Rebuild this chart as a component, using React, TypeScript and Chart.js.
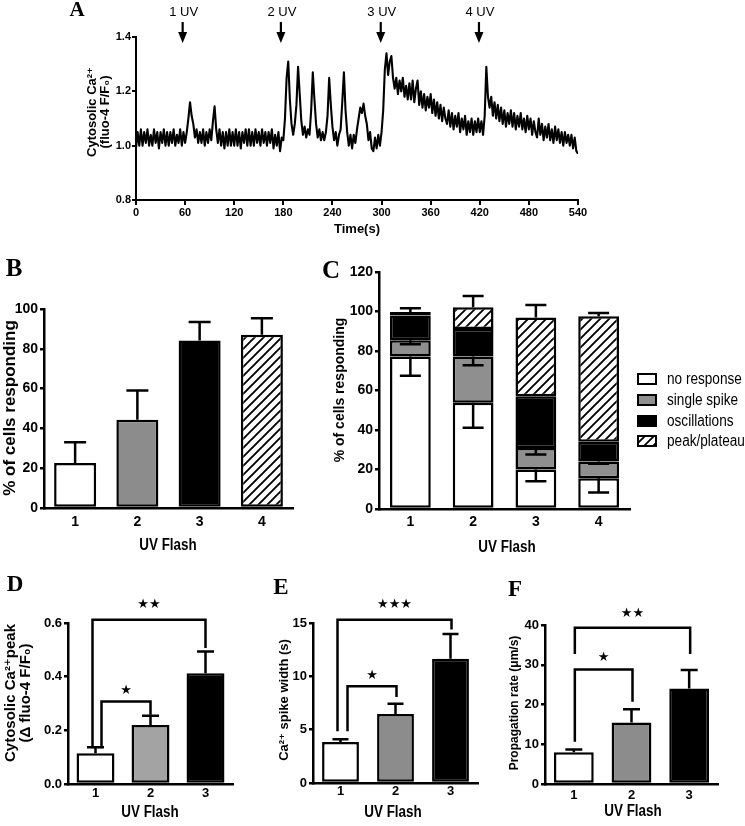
import React, { useEffect, useRef } from 'react';
import { Chart, registerables } from 'chart.js';
Chart.register(...registerables);

// ---------------- DATA ----------------
// Panel A: cytosolic Ca2+ trace (fluo-4 F/F0), one value every TRACE_STEP_S seconds from 0 s
const TRACE_STEP_S = 2;
const TRACE_F_F0 = [
  0.99, 1.05, 1.00, 1.06, 1.00, 1.05, 1.01, 1.06, 1.00, 1.04,
  1.00, 1.06, 1.01, 1.05, 0.99, 1.05, 1.01, 1.06, 1.00, 1.05,
  1.00, 1.05, 1.01, 1.06, 1.00, 1.04, 1.01, 1.06, 1.00, 1.05,
  1.01, 1.05, 1.10, 1.16, 1.11, 1.08, 1.03, 1.06, 1.01, 1.05,
  1.01, 1.06, 1.00, 1.05, 1.01, 1.06, 1.02, 1.09, 1.145, 1.06,
  1.01, 1.06, 1.00, 1.05, 0.99, 1.05, 1.00, 1.06, 1.00, 1.05,
  1.00, 1.06, 1.00, 1.05, 0.99, 1.05, 1.01, 1.06, 1.00, 1.06,
  1.00, 1.05, 1.00, 1.06, 1.01, 1.05, 1.00, 1.06, 1.01, 1.05,
  1.00, 1.05, 1.01, 1.06, 0.99, 1.04, 1.00, 1.05, 0.98, 1.03,
  1.02, 1.10, 1.25, 1.31, 1.17, 1.08, 1.04, 1.08, 1.15, 1.29,
  1.19, 1.09, 1.04, 1.07, 1.03, 1.06, 1.04, 1.13, 1.27, 1.17,
  1.08, 1.03, 1.06, 1.02, 1.05, 1.02, 1.05, 1.11, 1.25, 1.15,
  1.07, 1.02, 1.05, 1.00, 1.04, 1.06, 1.16, 1.27, 1.13, 1.05,
  1.00, 1.04, 0.99, 1.04, 1.01, 1.06, 1.10, 1.14, 1.12, 1.155,
  1.11, 1.08, 1.02, 1.05, 0.99, 0.98, 1.03, 0.99, 1.04, 1.00,
  1.05, 1.13, 1.28, 1.34, 1.26, 1.31, 1.33, 1.25, 1.21, 1.25,
  1.19, 1.24, 1.20, 1.25, 1.18, 1.22, 1.17, 1.23, 1.17, 1.24,
  1.16, 1.21, 1.24, 1.15, 1.20, 1.14, 1.19, 1.13, 1.18, 1.14,
  1.19, 1.12, 1.17, 1.11, 1.16, 1.10, 1.15, 1.09, 1.14, 1.10,
  1.08, 1.13, 1.07, 1.12, 1.06, 1.11, 1.07, 1.12, 1.05, 1.10,
  1.06, 1.11, 1.04, 1.09, 1.05, 1.10, 1.04, 1.09, 1.05, 1.10,
  1.05, 1.09, 1.04, 1.11, 1.29, 1.18, 1.14, 1.18, 1.11, 1.16,
  1.10, 1.15, 1.09, 1.14, 1.08, 1.13, 1.07, 1.12, 1.08, 1.13,
  1.07, 1.12, 1.06, 1.11, 1.07, 1.12, 1.06, 1.10, 1.05, 1.11,
  1.06, 1.10, 1.04, 1.09, 1.05, 1.03, 1.10, 1.04, 1.08, 1.02,
  1.07, 1.03, 1.08, 1.02, 1.06, 1.01, 1.07, 1.02, 1.06, 1.01,
  1.05, 1.00, 1.05, 1.01, 1.04, 1.00, 1.04, 0.99, 1.03, 0.98,
  0.97,
];
const UV_FLASH_TIMES = [57, 177, 299, 419];
const UV_FLASH_LABELS = ['1 UV', '2 UV', '3 UV', '4 UV'];

const FLASHES_4 = ['1', '2', '3', '4'];
const FLASHES_3 = ['1', '2', '3'];

// Panel B
const B_RESPONDING = [22.6, 44.4, 84.2, 87.1];
const B_RESPONDING_SEM = [10.4, 14.7, 9.3, 8.2];

// Panel C (stacked %)
const C_SERIES = ['no response', 'single spike', 'oscillations', 'peak/plateau'];
const C_NO_RESPONSE = [77.2, 53.8, 20.0, 15.6];
const C_SINGLE_SPIKE = [8.3, 23.4, 10.9, 8.5];
const C_OSCILLATIONS = [12.5, 13.9, 26.2, 10.0];
const C_PEAK_PLATEAU = [1.7, 11.0, 39.8, 63.5];
const C_NO_RESPONSE_SEM = [9.7, 12.7, 5.9, 7.3];
const C_SINGLE_SPIKE_SEM = [2.1, 4.4, 3.3, 1.2];
const C_PEAK_PLATEAU_SEM = [1.9, 5.7, 6.4, 1.6];

// Panel D
const D_PEAK = [0.115, 0.220, 0.413];
const D_PEAK_SEM = [0.022, 0.034, 0.081];
const D_SIG_PAIRS = [[0, 1], [0, 2]];
const D_SIG_TOP = [0.307, 0.612];
const D_SIG_LEG_START = [0.133, 0.133];
const D_SIG_LEG_END = [0.258, 0.507];
const D_SIG_STARS = ['★', '★★'];

// Panel E
const E_WIDTH = [3.84, 6.47, 11.66];
const E_WIDTH_SEM = [0.26, 0.97, 2.31];
const E_SIG_PAIRS = [[0, 1], [0, 2]];
const E_SIG_TOP = [9.06, 15.3];
const E_SIG_LEG_START = [4.84, 4.84];
const E_SIG_LEG_END = [8.06, 14.4];
const E_SIG_STARS = ['★', '★★★'];

// Panel F
const F_RATE = [7.97, 15.5, 24.0];
const F_RATE_SEM = [0.73, 3.3, 4.7];
const F_SIG_PAIRS = [[0, 1], [0, 2]];
const F_SIG_TOP = [28.8, 39.3];
const F_SIG_LEG_START = [10.6, 32.7];
const F_SIG_LEG_END = [20.7, 32.7];
const F_SIG_STARS = ['★', '★★'];

// ---------------- STYLE ----------------
const SANS = "'Liberation Sans', Arial, 'DejaVu Sans', sans-serif";
const SERIF = "'Liberation Serif', 'Times New Roman', serif";
const STAR_FONT = "13px 'DejaVu Sans', sans-serif";
const ROT = -Math.PI / 2;

let hatchPattern: any = null;
function getHatch() {
  if (hatchPattern) return hatchPattern;
  const s = 9;
  const c = document.createElement('canvas');
  c.width = s; c.height = s;
  const g = c.getContext('2d')!;
  g.fillStyle = '#fff';
  g.fillRect(0, 0, s, s);
  g.strokeStyle = '#000';
  g.lineWidth = 1.9;
  g.beginPath();
  g.moveTo(-1, s + 1); g.lineTo(s + 1, -1);
  g.moveTo(-2, 2); g.lineTo(2, -2);
  g.moveTo(s - 2, s + 2); g.lineTo(s + 2, s - 2);
  g.stroke();
  hatchPattern = g.createPattern(c, 'repeat');
  return hatchPattern;
}

type Box = { x: number; y: number; w: number; h: number };
type Area = { l: number; r: number; t: number; b: number };
type TextItem = { text: string; x: number; y: number; font: string; rot?: number; sx?: number; align?: CanvasTextAlign };

function textPlugin(box: Box, items: TextItem[]) {
  return {
    id: 'pageTexts',
    afterDraw(chart: any) {
      const ctx = chart.ctx;
      items.forEach((t) => {
        ctx.save();
        ctx.translate(t.x - box.x, t.y - box.y);
        if (t.sx) ctx.scale(t.sx, 1);
        if (t.rot) ctx.rotate(t.rot);
        ctx.font = t.font;
        ctx.fillStyle = '#000';
        ctx.textAlign = t.align || 'center';
        ctx.textBaseline = 'middle';
        ctx.fillText(t.text, 0, 0);
        ctx.restore();
      });
    },
  };
}

function errorBarPlugin(cap: number, lw: number) {
  return {
    id: 'errorBars',
    afterDatasetsDraw(chart: any) {
      const ctx = chart.ctx;
      const ys = chart.scales.y;
      const unit = ys.getPixelForValue(0) - ys.getPixelForValue(1);
      ctx.save();
      ctx.strokeStyle = '#000';
      ctx.lineWidth = lw;
      ctx.lineCap = 'butt';
      chart.data.datasets.forEach((ds: any, di: number) => {
        if (!ds.sem) return;
        const meta = chart.getDatasetMeta(di);
        meta.data.forEach((el: any, i: number) => {
          const e = ds.sem[i];
          if (!e) return;
          const y0 = el.y;
          const y1 = y0 - ds.semDir * e * unit;
          ctx.beginPath();
          ctx.moveTo(el.x, y0);
          ctx.lineTo(el.x, y1);
          ctx.moveTo(el.x - cap / 2, y1);
          ctx.lineTo(el.x + cap / 2, y1);
          ctx.stroke();
        });
      });
      ctx.restore();
    },
  };
}

function bracketPlugin(pairs: number[][], top: number[], legStart: number[], legEnd: number[], stars: string[], dx: number[][], gaps: number[]) {
  return {
    id: 'sigBrackets',
    afterDatasetsDraw(chart: any) {
      const ctx = chart.ctx;
      const xs = chart.scales.x;
      const ys = chart.scales.y;
      ctx.save();
      ctx.strokeStyle = '#000';
      ctx.fillStyle = '#000';
      ctx.lineWidth = 2.5;
      ctx.lineJoin = 'miter';
      ctx.lineCap = 'butt';
      pairs.forEach((p, k) => {
        const x1 = xs.getPixelForValue(p[0]) + dx[k][0];
        const x2 = xs.getPixelForValue(p[1]) + dx[k][1];
        const yt = ys.getPixelForValue(top[k]);
        ctx.beginPath();
        ctx.moveTo(x1, ys.getPixelForValue(legStart[k]));
        ctx.lineTo(x1, yt);
        ctx.lineTo(x2, yt);
        ctx.lineTo(x2, ys.getPixelForValue(legEnd[k]));
        ctx.stroke();
        ctx.font = STAR_FONT;
        ctx.textAlign = 'center';
        ctx.textBaseline = 'middle';
        ctx.fillText(stars[k], (x1 + x2) / 2, yt - gaps[k]);
      });
      ctx.restore();
    },
  };
}

function legendPlugin(box: Box, labels: string[], fills: any[], x0: number, ys: number[]) {
  return {
    id: 'cLegend',
    afterDraw(chart: any) {
      const ctx = chart.ctx;
      ctx.save();
      labels.forEach((lab, i) => {
        const x = x0 - box.x;
        const y = ys[i] - box.y;
        ctx.fillStyle = fills[i];
        ctx.fillRect(x, y - 6, 20, 12);
        ctx.strokeStyle = '#000';
        ctx.lineWidth = 2;
        ctx.strokeRect(x + 1, y - 5, 18, 10);
        ctx.save();
        ctx.translate(x + 30, y + 1);
        ctx.scale(0.85, 1);
        ctx.fillStyle = '#000';
        ctx.font = `16px ${SANS}`;
        ctx.textAlign = 'left';
        ctx.textBaseline = 'middle';
        ctx.fillText(lab, 0, 0);
        ctx.restore();
      });
      ctx.restore();
    },
  };
}

function barConfig(opts: {
  box: Box; area: Area; labels: string[]; datasets: any[]; stacked?: boolean;
  yMin: number; yMax: number; yStep: number; fmt: (v: number) => string;
  tickSize: number; xPad: number; plugins: any[];
}) {
  const { box, area } = opts;
  const tickFont = { family: SANS, size: opts.tickSize, weight: 'bold' as const };
  return {
    type: 'bar' as const,
    data: { labels: opts.labels, datasets: opts.datasets },
    options: {
      animation: false as const,
      responsive: false,
      maintainAspectRatio: false,
      devicePixelRatio: 1,
      events: [],
      layout: { padding: { left: 0, top: area.t - box.y, right: box.x + box.w - area.r, bottom: 0 } },
      plugins: { legend: { display: false }, tooltip: { enabled: false } },
      scales: {
        x: {
          stacked: !!opts.stacked,
          offset: true,
          grid: { display: false, drawTicks: false },
          border: { display: true, color: '#000', width: 2.5 },
          ticks: { color: '#000', font: tickFont, padding: opts.xPad, maxRotation: 0 },
          afterFit: (s: any) => { s.height = box.y + box.h - area.b; },
        },
        y: {
          stacked: !!opts.stacked,
          min: opts.yMin,
          max: opts.yMax,
          grid: { display: true, drawOnChartArea: false, drawTicks: true, tickLength: 4, color: '#000', lineWidth: 2.5 },
          border: { display: true, color: '#000', width: 2.5 },
          ticks: { stepSize: opts.yStep, color: '#000', font: tickFont, padding: 2, callback: (v: any) => opts.fmt(Number(v)) },
          afterFit: (s: any) => { s.width = area.l - box.x; },
        },
      },
    },
    plugins: opts.plugins,
  };
}

// ---------------- PANELS ----------------
const A_BOX: Box = { x: 0, y: 0, w: 745, h: 245 };
const A_AREA: Area = { l: 136, r: 578, t: 37, b: 200 };

function makeA() {
  const uvArrows = {
    id: 'uvArrows',
    afterDraw(chart: any) {
      const ctx = chart.ctx;
      const xs = chart.scales.x;
      ctx.save();
      ctx.fillStyle = '#000';
      ctx.strokeStyle = '#000';
      UV_FLASH_TIMES.forEach((t, i) => {
        const x = xs.getPixelForValue(t);
        ctx.font = `13px ${SANS}`;
        ctx.textAlign = 'center';
        ctx.textBaseline = 'middle';
        ctx.fillText(UV_FLASH_LABELS[i], x + 1, 12);
        ctx.lineWidth = 2.2;
        ctx.beginPath();
        ctx.moveTo(x, 22);
        ctx.lineTo(x, 34);
        ctx.stroke();
        ctx.beginPath();
        ctx.moveTo(x - 4.5, 32);
        ctx.lineTo(x + 4.5, 32);
        ctx.lineTo(x, 43);
        ctx.closePath();
        ctx.fill();
      });
      ctx.restore();
    },
  };
  const tickFont = { family: SANS, size: 11, weight: 'bold' as const };
  return {
    type: 'line' as const,
    data: {
      datasets: [{
        data: TRACE_F_F0.map((v, i) => ({ x: i * TRACE_STEP_S, y: v })),
        borderColor: '#000',
        borderWidth: 2.1,
        pointRadius: 0,
        borderJoinStyle: 'round' as const,
        tension: 0,
      }],
    },
    options: {
      animation: false as const,
      responsive: false,
      maintainAspectRatio: false,
      devicePixelRatio: 1,
      events: [],
      layout: { padding: { left: 0, top: A_AREA.t - A_BOX.y, right: A_BOX.x + A_BOX.w - A_AREA.r, bottom: 0 } },
      plugins: { legend: { display: false }, tooltip: { enabled: false } },
      scales: {
        x: {
          type: 'linear' as const,
          min: 0,
          max: 540,
          grid: { display: true, drawOnChartArea: false, drawTicks: true, tickLength: 5, color: '#000', lineWidth: 2 },
          border: { display: true, color: '#000', width: 2 },
          ticks: { stepSize: 60, color: '#000', font: tickFont, padding: 1, maxRotation: 0 },
          afterFit: (s: any) => { s.height = A_BOX.y + A_BOX.h - A_AREA.b; },
        },
        y: {
          min: 0.8,
          max: 1.4,
          grid: { display: true, drawOnChartArea: false, drawTicks: true, tickLength: 4, color: '#000', lineWidth: 2 },
          border: { display: true, color: '#000', width: 2 },
          ticks: { stepSize: 0.2, color: '#000', font: tickFont, padding: 1, callback: (v: any) => Number(v).toFixed(1) },
          afterFit: (s: any) => { s.width = A_AREA.l - A_BOX.x; },
        },
      },
    },
    plugins: [
      uvArrows,
      textPlugin(A_BOX, [
        { text: 'A', x: 77, y: 11, font: `bold 21px ${SERIF}` },
        { text: 'Cytosolic Ca²⁺', x: 92, y: 112, rot: ROT, font: `bold 13px ${SANS}` },
        { text: '(fluo-4 F/F₀)', x: 105, y: 112, rot: ROT, font: `bold 13px ${SANS}` },
        { text: 'Time(s)', x: 357, y: 229, font: `bold 13px ${SANS}` },
      ]),
    ],
  };
}

const B_BOX: Box = { x: 0, y: 250, w: 300, h: 315 };
const B_AREA: Area = { l: 44, r: 293, t: 309, b: 508 };
function makeB() {
  return barConfig({
    box: B_BOX, area: B_AREA, labels: FLASHES_4,
    datasets: [{
      data: B_RESPONDING,
      backgroundColor: ['#ffffff', '#8c8c8c', '#000000', getHatch()],
      borderColor: '#000', borderWidth: 2.5, borderSkipped: false,
      barPercentage: 0.675, categoryPercentage: 1,
      sem: B_RESPONDING_SEM, semDir: 1,
    }],
    yMin: 0, yMax: 100, yStep: 20, fmt: (v) => String(Math.round(v)), tickSize: 14, xPad: 6,
    plugins: [
      errorBarPlugin(22, 2.5),
      textPlugin(B_BOX, [
        { text: 'B', x: 14, y: 270, font: `bold 25px ${SERIF}` },
        { text: '% of cells responding', x: 10, y: 408, rot: ROT, font: `bold 17px ${SANS}` },
        { text: 'UV Flash', x: 168, y: 546, sx: 0.84, font: `bold 16px ${SANS}` },
      ]),
    ],
  });
}

const C_BOX: Box = { x: 300, y: 250, w: 445, h: 320 };
const C_AREA: Area = { l: 379, r: 630, t: 272, b: 509 };
function makeC() {
  const common = { borderColor: '#000', borderWidth: 2.5, borderSkipped: false, barPercentage: 0.65, categoryPercentage: 1 };
  const fills = ['#ffffff', '#8f8f8f', '#000000', getHatch()];
  return barConfig({
    box: C_BOX, area: C_AREA, labels: FLASHES_4, stacked: true,
    datasets: [
      { label: C_SERIES[0], data: C_NO_RESPONSE, backgroundColor: fills[0], sem: C_NO_RESPONSE_SEM, semDir: -1, ...common },
      { label: C_SERIES[1], data: C_SINGLE_SPIKE, backgroundColor: fills[1], sem: C_SINGLE_SPIKE_SEM, semDir: -1, ...common },
      { label: C_SERIES[2], data: C_OSCILLATIONS, backgroundColor: fills[2], ...common },
      { label: C_SERIES[3], data: C_PEAK_PLATEAU, backgroundColor: fills[3], sem: C_PEAK_PLATEAU_SEM, semDir: 1, ...common },
    ],
    yMin: 0, yMax: 120, yStep: 20, fmt: (v) => String(Math.round(v)), tickSize: 14, xPad: 5,
    plugins: [
      errorBarPlugin(21, 2.5),
      legendPlugin(C_BOX, C_SERIES, fills, 637, [379, 400, 421, 441]),
      textPlugin(C_BOX, [
        { text: 'C', x: 331, y: 272, font: `bold 25px ${SERIF}` },
        { text: '% of cells responding', x: 340, y: 390, rot: ROT, font: `bold 14px ${SANS}` },
        { text: 'UV Flash', x: 507, y: 548, sx: 0.84, font: `bold 16px ${SANS}` },
      ]),
    ],
  });
}

const D_BOX: Box = { x: 0, y: 570, w: 245, h: 256 };
const D_AREA: Area = { l: 68, r: 233, t: 623, b: 784 };
function makeD() {
  return barConfig({
    box: D_BOX, area: D_AREA, labels: FLASHES_3,
    datasets: [{
      data: D_PEAK,
      backgroundColor: ['#ffffff', '#a3a3a3', '#000000'],
      borderColor: '#000', borderWidth: 2.5, borderSkipped: false,
      barPercentage: 0.69, categoryPercentage: 1,
      sem: D_PEAK_SEM, semDir: 1,
    }],
    yMin: 0, yMax: 0.6, yStep: 0.2, fmt: (v) => v.toFixed(1), tickSize: 13, xPad: 2,
    plugins: [
      errorBarPlugin(17, 2.5),
      bracketPlugin(D_SIG_PAIRS, D_SIG_TOP, D_SIG_LEG_START, D_SIG_LEG_END, D_SIG_STARS, [[6, 0], [-3, 0]], [11, 15]),
      textPlugin(D_BOX, [
        { text: 'D', x: 15, y: 585, font: `bold 23px ${SERIF}` },
        { text: 'Cytosolic Ca²⁺peak', x: 11, y: 693, rot: ROT, font: `bold 15px ${SANS}` },
        { text: '(Δ fluo-4 F/F₀)', x: 26, y: 693, rot: ROT, font: `bold 15px ${SANS}` },
        { text: 'UV Flash', x: 150, y: 813, sx: 0.84, font: `bold 16px ${SANS}` },
      ]),
    ],
  });
}

const E_BOX: Box = { x: 245, y: 570, w: 245, h: 256 };
const E_AREA: Area = { l: 313, r: 478, t: 623, b: 783 };
function makeE() {
  return barConfig({
    box: E_BOX, area: E_AREA, labels: FLASHES_3,
    datasets: [{
      data: E_WIDTH,
      backgroundColor: ['#ffffff', '#8c8c8c', '#000000'],
      borderColor: '#000', borderWidth: 2.5, borderSkipped: false,
      barPercentage: 0.67, categoryPercentage: 1,
      sem: E_WIDTH_SEM, semDir: 1,
    }],
    yMin: 0, yMax: 15, yStep: 5, fmt: (v) => String(Math.round(v)), tickSize: 13, xPad: 1,
    plugins: [
      errorBarPlugin(16, 2.5),
      bracketPlugin(E_SIG_PAIRS, E_SIG_TOP, E_SIG_LEG_START, E_SIG_LEG_END, E_SIG_STARS, [[7, 1], [-3, 1]], [11, 15]),
      textPlugin(E_BOX, [
        { text: 'E', x: 281, y: 588, font: `bold 23px ${SERIF}` },
        { text: 'Ca²⁺ spike width (s)', x: 284, y: 700, rot: ROT, font: `bold 13px ${SANS}` },
        { text: 'UV Flash', x: 393, y: 813, sx: 0.84, font: `bold 16px ${SANS}` },
      ]),
    ],
  });
}

const F_BOX: Box = { x: 490, y: 570, w: 255, h: 256 };
const F_AREA: Area = { l: 545, r: 718, t: 625, b: 784 };
function makeF() {
  return barConfig({
    box: F_BOX, area: F_AREA, labels: FLASHES_3,
    datasets: [{
      data: F_RATE,
      backgroundColor: ['#ffffff', '#8c8c8c', '#000000'],
      borderColor: '#000', borderWidth: 2.5, borderSkipped: false,
      barPercentage: 0.69, categoryPercentage: 1,
      sem: F_RATE_SEM, semDir: 1,
    }],
    yMin: 0, yMax: 40, yStep: 10, fmt: (v) => String(Math.round(v)), tickSize: 13, xPad: 4,
    plugins: [
      errorBarPlugin(17, 2.5),
      bracketPlugin(F_SIG_PAIRS, F_SIG_TOP, F_SIG_LEG_START, F_SIG_LEG_END, F_SIG_STARS, [[1, 1], [1, 1]], [12, 14]),
      textPlugin(F_BOX, [
        { text: 'F', x: 515, y: 590, font: `bold 23px ${SERIF}` },
        { text: 'Propagation rate (μm/s)', x: 515, y: 703, rot: ROT, font: `bold 12px ${SANS}` },
        { text: 'UV Flash', x: 633, y: 812, sx: 0.84, font: `bold 16px ${SANS}` },
      ]),
    ],
  });
}

function ChartCanvas({ box, make }: { box: Box; make: () => any }) {
  const ref = useRef<HTMLCanvasElement>(null);
  useEffect(() => {
    const chart = new Chart(ref.current as HTMLCanvasElement, make());
    return () => chart.destroy();
  }, []);
  return (
    <canvas
      ref={ref}
      width={box.w}
      height={box.h}
      style={{ position: 'absolute', left: box.x, top: box.y, width: box.w, height: box.h }}
    />
  );
}

export default function App() {
  return (
    <div style={{ position: 'absolute', left: 0, top: 0, width: 745, height: 826, background: '#fff', overflow: 'hidden' }}>
      <ChartCanvas box={A_BOX} make={makeA} />
      <ChartCanvas box={B_BOX} make={makeB} />
      <ChartCanvas box={C_BOX} make={makeC} />
      <ChartCanvas box={D_BOX} make={makeD} />
      <ChartCanvas box={E_BOX} make={makeE} />
      <ChartCanvas box={F_BOX} make={makeF} />
    </div>
  );
}
